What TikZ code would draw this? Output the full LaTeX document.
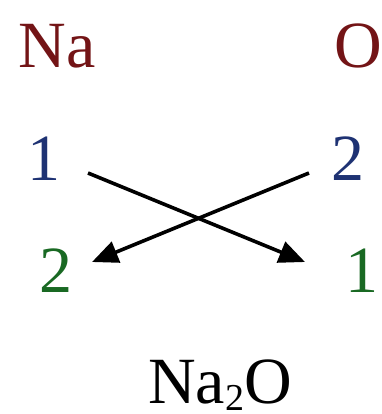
\documentclass[tikz,border=0pt]{standalone}
\usepackage{fontspec}
\setmainfont{Liberation Serif}
\usetikzlibrary{arrows.meta}
\definecolor{elemred}{RGB}{115,20,22}
\definecolor{valblue}{RGB}{30,50,115}
\definecolor{valgreen}{RGB}{25,105,35}
\tikzset{
  lbl/.style={anchor=base, inner sep=0pt, font=\fontsize{66}{70}\selectfont},
  cross/.style={line width=3.6pt, -{Triangle[length=26pt,width=22pt]}}
}
\begin{document}
\begin{tikzpicture}[x=1pt,y=1pt]
\useasboundingbox (0,0) rectangle (381,-414);
\node[lbl, text=elemred] (na) at (57,-68) {Na};
\node[lbl, text=elemred] (o) at (358,-68) {O};
\node[lbl, text=valblue] (b1) at (44,-180) {1};
\node[lbl, text=valblue] (b2) at (348,-180) {2};
\node[lbl, text=valgreen] (g2) at (56,-292) {2};
\node[lbl, text=valgreen] (g1) at (362,-292) {1};
\node[lbl] (f) at (220,-403) {Na\raisebox{-7pt}{\fontsize{38}{40}\selectfont 2}O};
\coordinate (s1) at (88,-173);
\coordinate (e1) at (305,-262);
\coordinate (s2) at (309,-173);
\coordinate (e2) at (92,-262);
\draw[cross] (s1) -- (e1);
\draw[cross] (s2) -- (e2);
\end{tikzpicture}
\end{document}
